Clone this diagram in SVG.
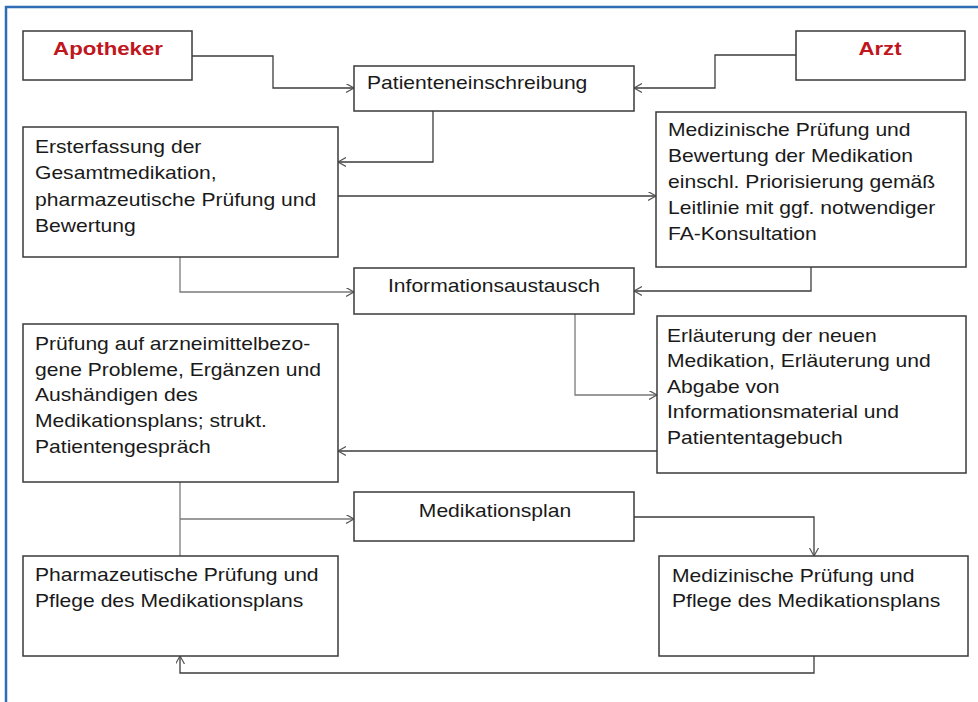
<svg xmlns="http://www.w3.org/2000/svg" width="978" height="702" viewBox="0 0 978 702">
<defs>
<style>
.box{fill:#fff;stroke:#3a3a3a;stroke-width:1.5}
.t{font-family:"Liberation Sans",Arial,sans-serif;font-size:18px;fill:#1a1a1a}
.r{font-family:"Liberation Sans",Arial,sans-serif;font-size:19px;font-weight:bold;fill:#c0161e}
.c{fill:none;stroke:#3c3c3c;stroke-width:1.3}
.g{fill:none;stroke:#7a7a7a;stroke-width:1.3}
</style>
<marker id="a" markerWidth="10" markerHeight="10" refX="8" refY="4.5" orient="auto" markerUnits="userSpaceOnUse">
<path d="M0,0 L8,4.5 L0,9" fill="none" stroke="#555" stroke-width="1.2"/>
</marker>
</defs>
<rect width="978" height="702" fill="#fff"/>
<path d="M6,702 V7 H978" fill="none" stroke="#2f6db5" stroke-width="2.5"/>
<g id="connectors">
<path class="c" d="M192,56 H273 V88 H354" marker-end="url(#a)"/>
<path class="c" d="M796,55 H715 V88 H634" marker-end="url(#a)"/>
<path class="c" d="M433,111 V162 H338" marker-end="url(#a)"/>
<path class="c" d="M338,196 H656" marker-end="url(#a)"/>
<path class="g" d="M180,257 V292 H354" marker-end="url(#a)"/>
<path class="c" d="M811,267 V291 H634" marker-end="url(#a)"/>
<path class="g" d="M575,314 V395 H657" marker-end="url(#a)"/>
<path class="c" d="M657,451 H338" marker-end="url(#a)"/>
<path class="g" d="M180,482 V556"/>
<path class="g" d="M180,519 H354" marker-end="url(#a)"/>
<path class="c" d="M634,517 H814 V556" marker-end="url(#a)"/>
<path class="c" d="M814,656 V673 H180 V656" marker-end="url(#a)"/>
</g>
<g id="apotheker">
<rect class="box" x="23" y="31" width="169" height="49"/>
<g transform="translate(108,55) scale(1.17,1)"><text class="r" text-anchor="middle">Apotheker</text></g>
</g>
<g id="arzt">
<rect class="box" x="796" y="31" width="169" height="49"/>
<g transform="translate(880,55) scale(1.17,1)"><text class="r" text-anchor="middle">Arzt</text></g>
</g>
<g id="patienteneinschreibung">
<rect class="box" x="354" y="66" width="280" height="45"/>
<g transform="translate(367,89) scale(1.172,1)"><text class="t">Patienteneinschreibung</text></g>
</g>
<g id="ersterfassung">
<rect class="box" x="23" y="127" width="315" height="130"/>
<g transform="translate(35,153) scale(1.172,1)"><text class="t"><tspan x="0" y="0">Ersterfassung der</tspan><tspan x="0" y="26.5">Gesamtmedikation,</tspan><tspan x="0" y="53">pharmazeutische Prüfung und</tspan><tspan x="0" y="79.5">Bewertung</tspan></text></g>
</g>
<g id="medizinische-pruefung">
<rect class="box" x="656" y="112" width="310" height="155"/>
<g transform="translate(668,136) scale(1.172,1)"><text class="t"><tspan x="0" y="0">Medizinische Prüfung und</tspan><tspan x="0" y="26">Bewertung der Medikation</tspan><tspan x="0" y="52">einschl. Priorisierung gemäß</tspan><tspan x="0" y="78">Leitlinie mit ggf. notwendiger</tspan><tspan x="0" y="104">FA-Konsultation</tspan></text></g>
</g>
<g id="informationsaustausch">
<rect class="box" x="354" y="268" width="280" height="46"/>
<g transform="translate(494,292) scale(1.172,1)"><text class="t" text-anchor="middle">Informationsaustausch</text></g>
</g>
<g id="erlaeuterung">
<rect class="box" x="657" y="316" width="309" height="157"/>
<g transform="translate(667,342) scale(1.172,1)"><text class="t"><tspan x="0" y="0">Erläuterung der neuen</tspan><tspan x="0" y="25.5">Medikation, Erläuterung und</tspan><tspan x="0" y="51">Abgabe von</tspan><tspan x="0" y="76.5">Informationsmaterial und</tspan><tspan x="0" y="102">Patiententagebuch</tspan></text></g>
</g>
<g id="pruefung">
<rect class="box" x="23" y="324" width="315" height="158"/>
<g transform="translate(35,350) scale(1.172,1)"><text class="t"><tspan x="0" y="0">Prüfung auf arzneimittelbezo-</tspan><tspan x="0" y="25.7">gene Probleme, Ergänzen und</tspan><tspan x="0" y="51.4">Aushändigen des</tspan><tspan x="0" y="77.1">Medikationsplans; strukt.</tspan><tspan x="0" y="102.8">Patientengespräch</tspan></text></g>
</g>
<g id="medikationsplan">
<rect class="box" x="354" y="492" width="280" height="49"/>
<g transform="translate(495,517) scale(1.172,1)"><text class="t" text-anchor="middle">Medikationsplan</text></g>
</g>
<g id="pharmazeutische-pflege">
<rect class="box" x="23" y="556" width="315" height="100"/>
<g transform="translate(35,581) scale(1.172,1)"><text class="t"><tspan x="0" y="0">Pharmazeutische Prüfung und</tspan><tspan x="0" y="26">Pflege des Medikationsplans</tspan></text></g>
</g>
<g id="medizinische-pflege">
<rect class="box" x="659" y="556" width="309" height="100"/>
<g transform="translate(672,582) scale(1.172,1)"><text class="t"><tspan x="0" y="0">Medizinische Prüfung und</tspan><tspan x="0" y="25.5">Pflege des Medikationsplans</tspan></text></g>
</g>
</svg>
